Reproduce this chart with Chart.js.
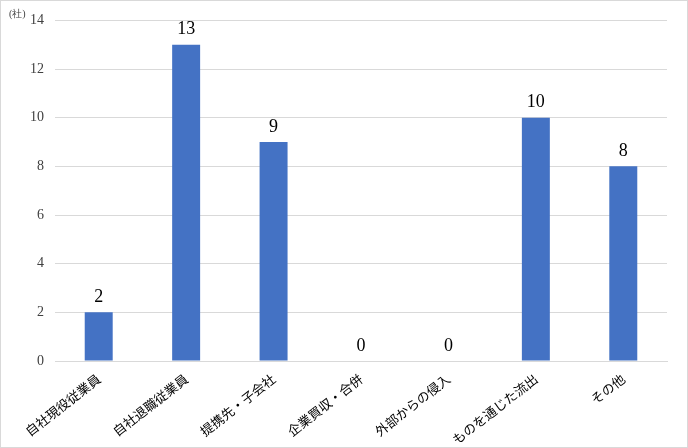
<!DOCTYPE html>
<html lang="ja">
<head>
    <meta charset="UTF-8">
    <title>漏えいルート</title>
    <script src="https://cdn.jsdelivr.net/npm/chart.js"></script>
    <style>
        html, body { margin: 0; padding: 0; background: #fff; }
        #wrap {
            position: relative;
            width: 686px;
            height: 446px;
            border: 1px solid #d9d9d9;
        }
        #unit {
            position: absolute;
            left: 8px;
            top: 6px;
            font-family: "Liberation Serif", serif;
            font-size: 10px;
            color: #404040;
        }
    </style>
</head>
<body>
    <div id="wrap">
        <canvas id="chart" width="686" height="446"></canvas>
        <div id="unit">(社)</div>
    </div>
    <script>
        const categories = ['自社現役従業員', '自社退職従業員', '提携先・子会社', '企業買収・合併', '外部からの侵入', 'ものを通じた流出', 'その他'];
        const counts = [2, 13, 9, 0, 0, 10, 8];
        const yTicks = [0, 2, 4, 6, 8, 10, 12, 14];

        // 棒の上に値を描く
        const valueLabels = {
            id: 'valueLabels',
            afterDatasetsDraw(chart) {
                const ctx = chart.ctx;
                const meta = chart.getDatasetMeta(0);
                ctx.save();
                ctx.font = '18px "Liberation Serif", serif';
                ctx.fillStyle = '#000';
                ctx.textAlign = 'center';
                ctx.textBaseline = 'bottom';
                meta.data.forEach((bar, i) => {
                    ctx.fillText(String(counts[i]), bar.x, bar.y - 6);
                });
                ctx.restore();
            }
        };

        new Chart(document.getElementById('chart'), {
            type: 'bar',
            data: {
                labels: categories,
                datasets: [{
                    data: counts,
                    backgroundColor: '#4472C4',
                    categoryPercentage: 1,
                    barPercentage: 0.32
                }]
            },
            options: {
                responsive: false,
                animation: false,
                layout: { padding: { top: 19, right: 20, left: 0, bottom: 0 } },
                plugins: {
                    legend: { display: false },
                    tooltip: { enabled: false }
                },
                scales: {
                    x: {
                        grid: { display: false },
                        border: { color: '#d9d9d9' },
                        ticks: {
                            minRotation: 38,
                            maxRotation: 38,
                            color: '#000',
                            padding: 2,
                            font: { family: '"Noto Sans CJK JP"', size: 13 }
                        },
                        afterFit(scale) { scale.height = 86; }
                    },
                    y: {
                        min: 0,
                        max: 14,
                        afterBuildTicks(scale) { scale.ticks = yTicks.map(v => ({ value: v })); },
                        grid: { color: '#d9d9d9', drawTicks: false },
                        border: { display: false },
                        ticks: {
                            color: '#404040',
                            padding: 11,
                            font: { family: '"Liberation Serif", serif', size: 14 }
                        },
                        afterFit(scale) { scale.width = 54; }
                    }
                }
            },
            plugins: [valueLabels]
        });
    </script>
</body>
</html>
